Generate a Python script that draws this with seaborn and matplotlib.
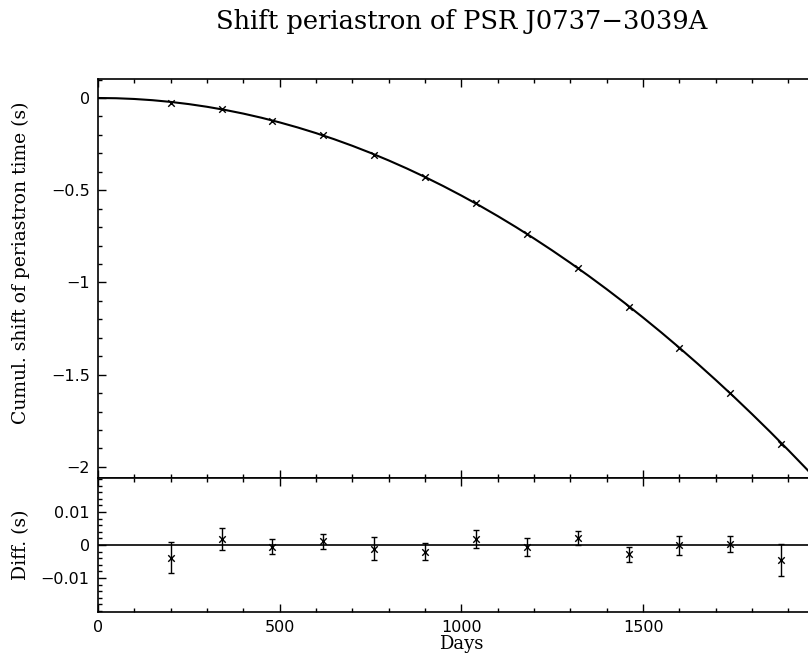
import numpy as np
import pandas as pd
import matplotlib
matplotlib.use("Agg")
import matplotlib.pyplot as plt
import seaborn as sns
from matplotlib.ticker import MultipleLocator

# model curve (cumulative shift), every 50 days
curve_days = [0, 50, 100, 150, 200, 250, 300, 350, 400, 450, 500, 550, 600,
              650, 700, 750, 800, 850, 900, 950, 1000, 1050, 1100, 1150, 1200,
              1250, 1300, 1350, 1400, 1450, 1500, 1550, 1600, 1650, 1700, 1750,
              1800, 1850, 1900, 1950, 2000]
curve_shift = [0.0, -0.0013, -0.0053, -0.0119, -0.0212, -0.0331, -0.0476,
               -0.0648, -0.0846, -0.1071, -0.1323, -0.1600, -0.1904, -0.2235,
               -0.2592, -0.2976, -0.3386, -0.3822, -0.4285, -0.4774, -0.5290,
               -0.5832, -0.6401, -0.6996, -0.7618, -0.8266, -0.8940, -0.9641,
               -1.0368, -1.1122, -1.1903, -1.2709, -1.3542, -1.4402, -1.5288,
               -1.6200, -1.7140, -1.8105, -1.9097, -2.0115, -2.1160]

# measured points
obs_days = [200, 340, 480, 620, 760, 900, 1040, 1180, 1320, 1460, 1600, 1740, 1880]
obs_shift = [-0.0250, -0.0593, -0.1224, -0.2022, -0.3067, -0.4305, -0.5705,
             -0.7373, -0.9196, -1.1304, -1.3543, -1.6013, -1.8743]
obs_diff = [-0.0038, 0.0019, -0.0005, 0.0011, -0.0011, -0.0020, 0.0017,
            -0.0007, 0.0021, -0.0028, -0.0001, 0.0003, -0.0046]
obs_err = [0.0046, 0.0034, 0.0023, 0.0023, 0.0034, 0.0026, 0.0027,
           0.0027, 0.0022, 0.0023, 0.0028, 0.0024, 0.0049]

curve_df = pd.DataFrame({"days": curve_days, "shift": curve_shift})
obs_df = pd.DataFrame({"days": obs_days, "shift": obs_shift,
                       "diff": obs_diff, "err": obs_err})

sns.set_theme(style="ticks")
plt.rcParams["font.family"] = ["DejaVu Sans"]
plt.rcParams["text.color"] = "black"
plt.rcParams["axes.labelcolor"] = "black"
plt.rcParams["xtick.color"] = "black"
plt.rcParams["ytick.color"] = "black"

fig = plt.figure(figsize=(8.08, 6.57), dpi=100)
left = 98 / 808
width = 2000 * 0.3634 / 808
ax_top = fig.add_axes([left, 1 - 478 / 657, width, (478 - 79) / 657])
ax_bot = fig.add_axes([left, 1 - 612 / 657, width, (612 - 478) / 657])

# top panel
sns.lineplot(data=curve_df, x="days", y="shift", ax=ax_top, color="black",
             linewidth=1.5, sort=True)
sns.scatterplot(data=obs_df, x="days", y="shift", ax=ax_top, marker="x",
                color="black", s=22, linewidth=1.0, zorder=3)
ax_top.set_xlim(0, 2000)
ax_top.set_ylim(-2.06, 0.103)

# bottom panel
ax_bot.axhline(0, color="black", linewidth=1.2)
ax_bot.errorbar(obs_df["days"], obs_df["diff"], yerr=obs_df["err"], fmt="none",
                ecolor="black", elinewidth=1.0, capsize=2.5, capthick=1.0)
sns.scatterplot(data=obs_df, x="days", y="diff", ax=ax_bot, marker="x",
                color="black", s=22, linewidth=1.0, zorder=3)
ax_bot.set_xlim(0, 2000)
ax_bot.set_ylim(-0.0203, 0.0203)

for ax in (ax_top, ax_bot):
    for sp in ax.spines.values():
        sp.set_linewidth(1.2)
        sp.set_color("black")
    ax.xaxis.set_major_locator(MultipleLocator(500))
    ax.xaxis.set_minor_locator(MultipleLocator(100))
    ax.tick_params(which="both", direction="in", top=True, right=True,
                   color="black", labelcolor="black", width=1.0,
                   labelsize=11.5, pad=6)
    ax.tick_params(which="major", length=6)
    ax.tick_params(which="minor", length=3)

ax_top.yaxis.set_major_locator(MultipleLocator(0.5))
ax_top.yaxis.set_minor_locator(MultipleLocator(0.1))
ax_top.set_yticks([0, -0.5, -1, -1.5, -2])
ax_top.set_yticklabels(["0", "\u22120.5", "\u22121", "\u22121.5", "\u22122"])
ax_top.tick_params(labelbottom=False)
ax_top.set_xlabel("")
ax_top.set_ylabel("Cumul. shift of periastron time (s)", family="DejaVu Serif",
                  fontsize=13.5)
ax_top.yaxis.set_label_coords(-0.094, 0.54)

ax_bot.yaxis.set_major_locator(MultipleLocator(0.01))
ax_bot.yaxis.set_minor_locator(MultipleLocator(0.002))
ax_bot.set_yticks([0.01, 0, -0.01])
ax_bot.set_yticklabels(["0.01", "0", "\u22120.01"])
ax_bot.set_xticks([0, 500, 1000, 1500])
ax_bot.set_xlabel("Days", family="DejaVu Serif", fontsize=13, labelpad=0)
ax_bot.set_ylabel("Diff. (s)", family="DejaVu Serif", fontsize=13.5)
ax_bot.yaxis.set_label_coords(-0.093, 0.5)

fig.text(left + width / 2, 1 - 22 / 657, "Shift periastron of PSR J0737\u22123039A",
         ha="center", va="center", family="DejaVu Serif", fontsize=18.5,
         color="black")

fig.savefig("out.png", dpi=100)
